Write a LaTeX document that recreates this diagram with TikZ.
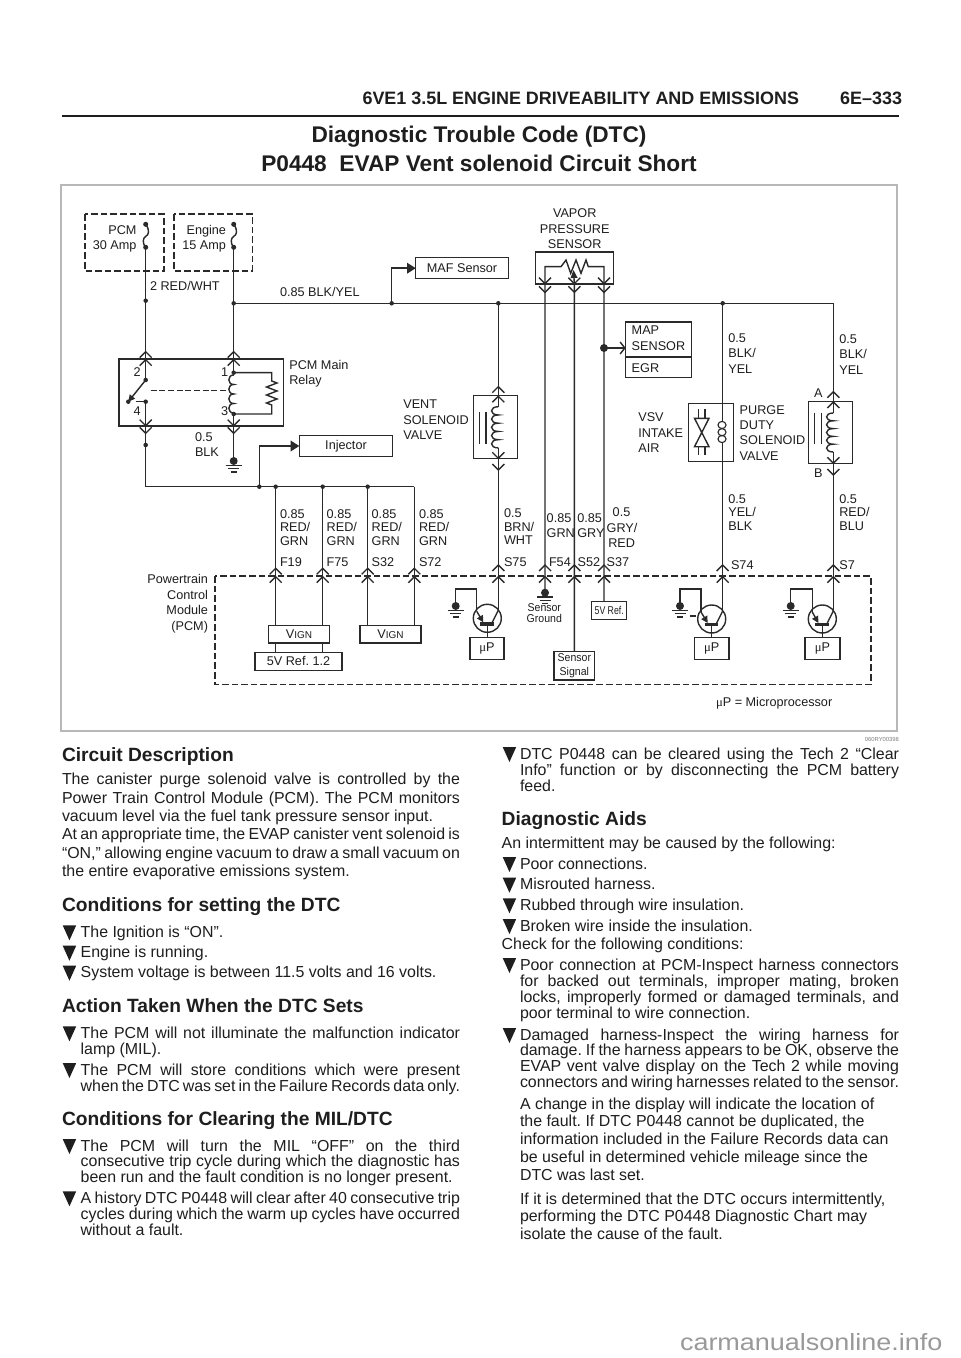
\documentclass[tikz,border=0pt]{standalone}
\usepackage{fontspec}
\usepackage{graphicx}
\usetikzlibrary{arrows.meta,calc}
\setmainfont{Liberation Sans}
\newfontfamily\mufont{Liberation Serif}
\definecolor{ink}{HTML}{1E1E1E}
\definecolor{wirec}{HTML}{2A2A2A}
\definecolor{framec}{HTML}{B8B8B8}
\definecolor{markc}{HTML}{999999}
\newdimen\pxd \pxd=0.75pt
\newcounter{tc}
\hfuzz=50pt \hbadness=10000
\frenchspacing
\newcommand\bodyf{\fontsize{11.95}{14}\selectfont}
\newcommand\headf{\fontsize{14.4}{17}\selectfont\bfseries}
\newcommand\dgf{\fontsize{9.5}{11}\selectfont}
\newcommand\smf{\fontsize{8.5}{10}\selectfont}
\tikzset{
  lab/.style={inner sep=0pt,outer sep=0pt,text=ink},
  wire/.style={draw=wirec,line width=1.05pt,line join=miter},
  thinw/.style={draw=wirec,line width=0.85pt},
  boxst/.style={draw=wirec,line width=1.05pt,fill=white,inner sep=0pt,outer sep=0pt,text=ink,align=center,font=\dgf},
  openbox/.style={draw=wirec,line width=1.05pt,inner sep=0pt,outer sep=0pt},
  dashbox/.style={draw=wirec,line width=0.9pt,dash pattern=on 5pt off 2.2pt},
  solid tip/.style={-{Triangle[length=6.5pt,width=8pt]}},
  barb tip/.style={-{Straight Barb[length=3.5pt,width=9pt]}},
}
% generic text: font, x, y, anchor, text
\newcommand\tx[5]{\stepcounter{tc}\node[lab,anchor=#4,font=#1] (t\number\value{tc}) at (#2,#3) {#5};}
\newcommand\bl[3]{\tx{\bodyf}{#1}{#2}{base west}{#3}}
\newcommand\jl[4]{\tx{\bodyf}{#1}{#2}{base west}{\hbox to #3\pxd{\spaceskip=0.278em plus 1fil minus 0.16em\relax #4}}}
\newcommand\hd[3]{\tx{\headf}{#1}{#2}{base west}{#3}}
\newcommand\lb[3]{\tx{\dgf}{#1}{#2}{base west}{#3}}
\newcommand\lbr[3]{\tx{\dgf}{#1}{#2}{base east}{#3}}
\newcommand\lbc[3]{\tx{\dgf}{#1}{#2}{base}{#3}}
\newcommand\bul[2]{\fill[ink] (#1,#2) ++(0,-12) -- ++(13.5,0) -- ++(-6.75,15) -- cycle;}
% box: name, x1,y1,x2,y2, text
\newcommand\bx[6]{\pgfmathsetmacro\bw{(#4-#2)*0.75}\pgfmathsetmacro\bh{(#5-#3)*0.75}\node[boxst,minimum width=\bw pt,minimum height=\bh pt] (#1) at ({(#2+#4)/2},{(#3+#5)/2}) {#6};}
\newcommand\obx[5]{\pgfmathsetmacro\bw{(#4-#2)*0.75}\pgfmathsetmacro\bh{(#5-#3)*0.75}\node[openbox,minimum width=\bw pt,minimum height=\bh pt] (#1) at ({(#2+#4)/2},{(#3+#5)/2}) {};}
% chevrons
\newcommand\cu[2]{\draw[wire] (#1-6,#2+6) -- (#1,#2) -- (#1+6,#2+6);}
\newcommand\cd[2]{\draw[wire] (#1-6,#2-6) -- (#1,#2) -- (#1+6,#2-6);}
\newcommand\dt[2]{\fill[wirec] (#1,#2) circle (1.7pt);}
\newcommand\gnd[2]{\fill[wirec] (#1,#2) circle (3pt);
  \draw[wire] (#1-8,#2+4.2) -- (#1+8,#2+4.2) (#1-5.5,#2+7.6) -- (#1+5.5,#2+7.6) (#1-3,#2+11) -- (#1+3,#2+11);}
\newcommand\fuse[2]{\draw[wire] (#1,#2) .. controls (#1+4.5,#2+6) and (#1+3,#2+11) .. (#1,#2+12) .. controls (#1-3,#2+14) and (#1-3.5,#2+19) .. (#1,#2+23);
  \fill[wirec] (#1,#2) circle (1.9pt) (#1,#2+23) circle (1.9pt);}
\newcommand\coil[5]{\draw[wire] (#1,#2) \foreach \i in {1,...,#4}{ .. controls +(-#5,0) and +(-#5,0) .. ++(0,#3) };}
% transistor: wire x, centre y, emitter-corner x, ground x
\newcommand\trans[4]{
  \draw[wire] (#1-11,#2) circle (10.5pt);
  \draw[wirec,line width=2.6pt] (#1-18,#2+5.6) -- (#1-4.5,#2+5.6);
  \draw[wire] (#1-11,#2+5.6) -- (#1-11,#2+19);
  \draw[wire] (#1,#2-8) -- (#1-6,#2+4);
  \draw[wire,-{Triangle[length=5pt,width=5pt]}] (#3,#2-7) -- (#1-15,#2+4);
  \draw[wire] (#3,#2-7) -- (#3,588.8) -- (#4,588.8) -- (#4,606);
  \gnd{#4}{606}}
\begin{document}
\begin{tikzpicture}[x=0.75pt,y=-0.75pt]
\useasboundingbox (0,0) rectangle (960,1358);
\fill[white] (0,0) rectangle (960,1358);

% ---------- page head
\tx{\fontsize{13.45}{16}\selectfont\bfseries}{799}{105}{base east}{6VE1 3.5L ENGINE DRIVEABILITY AND EMISSIONS}
\tx{\fontsize{13.45}{16}\selectfont\bfseries}{902}{105}{base east}{6E–333}
\coordinate (ruleA) at (62,116); \coordinate (ruleB) at (899,116);
\draw[ink,line width=1.7pt] (ruleA) -- (ruleB);
\tx{\fontsize{17}{20}\selectfont\bfseries}{479}{143}{base}{Diagnostic Trouble Code (DTC)}
\tx{\fontsize{17}{20}\selectfont\bfseries}{479}{172}{base}{P0448\ \ EVAP Vent solenoid Circuit Short}
\node[draw=framec,line width=1pt,minimum width=627pt,minimum height=409.5pt,inner sep=0pt] (frame) at (479,458) {};
\tx{\fontsize{4.4}{5}\selectfont}{899}{741}{base east}{\color{gray}060RY00398}

% ---------- diagram: boxes
\draw[dashbox] (85,214) rectangle (164,271);
\draw[dashbox] (174,214) rectangle (252.3,271);
\draw[dashbox] (215,576) rectangle (871,684.3);
\obx{relay}{119}{359}{283.3}{426}
\obx{vent}{473.3}{395.7}{517.3}{458.3}
\obx{vapor}{535.7}{252}{613.7}{284}
\obx{purge}{688.3}{403.3}{733.3}{461.7}
\obx{sol}{808.7}{401.3}{852.7}{463.3}
\bx{maf}{415.7}{257.7}{508.3}{278.7}{MAF Sensor}
\bx{inj}{299.3}{435.3}{392.7}{456.7}{Injector}
\bx{vign1}{268.7}{625.3}{329.3}{643}{V{\fontsize{7.5}{9}\selectfont IGN}}
\bx{ref12}{255}{652.3}{342}{670.3}{5V Ref. 1.2}
\bx{vign2}{360}{625.3}{421}{643}{V{\fontsize{7.5}{9}\selectfont IGN}}
\bx{map}{625.7}{322}{691.3}{357}{}
\bx{egr}{625.7}{357}{691.3}{377.7}{}
\bx{up1}{470}{637.3}{504}{659.3}{{\mufont μ}P}
\bx{up2}{694.3}{637.3}{729}{659.3}{{\mufont μ}P}
\bx{up3}{805}{637.3}{840}{659.3}{{\mufont μ}P}
\bx{ssig}{554}{651.3}{594.7}{680}{\smf\scalebox{.93}[1]{Sensor}\\[-1pt]\smf\scalebox{.93}[1]{Signal}}
\bx{vref}{591.7}{601.3}{626.7}{619.7}{\smf\scalebox{.77}[1]{5V Ref.}}

% ---------- junctions
\coordinate (f1) at (145.7,247.3); \coordinate (f2) at (233.7,247.3);
\coordinate (r2) at (145.7,380); \coordinate (r1) at (233.7,372.7);
\coordinate (r4) at (145.7,401.7); \coordinate (r3) at (233.7,414);
\coordinate (j0) at (233.7,303.3); \coordinate (jR) at (833.3,303.3);
\coordinate (j1) at (391.7,303.3); \coordinate (j2) at (498.3,303.3); \coordinate (j3) at (722.7,303.3);
\coordinate (sw) at (128.3,401.7);
\coordinate (bus) at (145.7,486.7); \coordinate (busR) at (414.3,486.7);
\coordinate (b1) at (259.3,486.7); \coordinate (b2) at (275.7,486.7); \coordinate (b3) at (322.7,486.7); \coordinate (b4) at (367.7,486.7);
\coordinate (gr) at (233.7,461);
\coordinate (jm) at (604,348);

% ---------- wires
\draw[wire] (f1) -- (r2);
\draw[wire] (f2) -- (r1);
\draw[wire] (j0) -- (jR) -- (833.3,413);
\draw[wire,solid tip] (j1) |- (maf.west);
\draw[wire] (j2) -- (498.3,406.7);
\draw[wire] (j3) -- (722.7,421);
\draw[wire] (722.7,443) -- (722.7,610);
\draw[wire] (833.3,452) -- (833.3,610);
\draw[wire] (498.3,448) -- (498.3,610);
\draw[wire] (r4) -- (bus) -- (busR);
\draw[wire] (136,401.7) -- (r4);
\draw[wire] (r3) -- (gr);
\draw[wire,solid tip] (b1) |- (inj.west);
\draw[wire] (b2) -- (b2 |- vign1.north) (vign1.south -| b2) -- (b2 |- ref12.north);
\draw[wire] (b3) -- (b3 |- vign1.north) (vign1.south -| b3) -- (b3 |- ref12.north);
\draw[wire] (b4) -- (b4 |- vign2.north);
\draw[wire] (busR) -- (busR |- vign2.north);
% vapor sensor
\draw[wire] (545,592) -- (545,266.7) -- (561,266.7) -- (566,260) -- (570.7,273.3) -- (576,260) -- (581,273.3) -- (586,260) -- (588.3,266.7) -- (604,266.7) -- (vref.north -| 604,0);
\draw[wire] (ssig.north) -- (574.3,283);
\draw[wire,-{Triangle[length=6pt,width=5pt]}] (574.3,283) -- (573.5,270);
\draw[wire,barb tip] (jm) -- (map.west |- jm);

% fuses, dots
\fuse{145.7}{224.3}
\fuse{233.7}{224.3}
\dt{145.7}{300.7}\dt{233.7}{303.3}\dt{391.7}{303.3}\dt{498.3}{303.3}\dt{722.7}{303.3}
\dt{145.7}{445}\dt{259.3}{486.7}\dt{275.7}{486.7}\dt{322.7}{486.7}\dt{367.7}{486.7}
\fill[wirec] (jm) circle (3pt);

% relay internals
\dt{145.7}{380}\dt{145.7}{401.7}\dt{128.3}{401.7}\dt{233.7}{372.7}\dt{233.7}{414}
\draw[wire,-{Triangle[length=5pt,width=5pt]}] (r2) -- (sw);
\draw[wire,dash pattern=on 4.5pt off 2pt] (150.7,390.3) -- (226.7,390.3);
\coil{233.7}{375}{9.5}{4}{6.5}
\draw[wire] (r1) -- (271.7,372.7) -- (271.7,381) -- (277,383) -- (266.5,387) -- (277,391) -- (266.5,395) -- (277,399) -- (266.5,403) -- (271.7,405) -- (271.7,414) -- (r3);
\gnd{233.7}{461}

% connectors
\cu{145.7}{351.7}\cu{145.7}{359.7}\cu{233.7}{351.7}\cu{233.7}{359.7}
\cd{145.7}{425.7}\cd{145.7}{433.3}\cd{233.7}{425.7}\cd{233.7}{433.3}
\cu{498.3}{386.7}\cu{498.3}{396.3}\cd{498.3}{458.3}\cd{498.3}{470}
\cd{545}{283.7}\cd{574.3}{283.7}\cd{604}{283.7}\cd{545}{292.3}\cd{574.3}{292.3}\cd{604}{292.3}
\cu{833.3}{391.7}\cu{833.3}{402}\cd{833.3}{463.3}\cd{833.3}{475}
\foreach \xx in {275.7,322.7,367.7,414.3}{\cu{\xx}{568.3}\cu{\xx}{576.7}}
\foreach \xx in {498.3,545,574.3,604,722.7,833.3}{\cu{\xx}{565}\cu{\xx}{576.7}}

% coils etc
\coil{498.3}{406.7}{8.25}{5}{9}
\coil{833.3}{413}{7.8}{5}{9}
\draw[wire] (479.5,412) -- (479.5,444) (486,412) -- (486,444);
\draw[wire] (814.3,412.7) -- (814.3,444.3) (821.7,412.7) -- (821.7,444.3);
\foreach \yy in {425,432.2,439}{\draw[thinw] (722,\yy) ellipse (3pt and 2.7pt);}
\draw[wire] (694.5,418.3) -- (709,418.3) -- (694.5,446.7) -- (709,446.7) -- cycle;
\draw[wire] (698.3,409) -- (698.3,418.3) (705,409) -- (705,418.3) (698.3,446.7) -- (698.3,455) (705,446.7) -- (705,455);

% transistors
\trans{498.3}{618.3}{476.7}{455.7}
\trans{722.7}{619}{701}{680}
\trans{833.3}{619}{812.3}{790.7}
\draw[wire] (690,616) -- (696,616);
\gnd{545}{592.7}

% ---------- diagram labels
\lbr{136.5}{234.3}{PCM}\lbr{136.5}{250}{30 Amp}
\lbr{226}{234.3}{Engine}\lbr{226}{250}{15 Amp}
\lb{150}{290.7}{2 RED/WHT}
\lb{280}{296.7}{0.85 BLK/YEL}
\lb{289.3}{369}{PCM Main}\lb{289.3}{384.3}{Relay}
\lb{133.5}{376.5}{2}\lb{133.5}{415}{4}\lb{221}{376.5}{1}\lb{221}{415}{3}
\lb{195}{441.7}{0.5}\lb{195}{456.7}{BLK}
\lb{403.3}{408.3}{VENT}\lb{403.3}{424}{SOLENOID}\lb{403.3}{439}{VALVE}
\lbc{574.7}{217.7}{VAPOR}\lbc{574.7}{233.3}{PRESSURE}\lbc{574.7}{248.3}{SENSOR}
\lb{631.7}{335}{MAP}\lb{631.7}{350.7}{SENSOR}\lb{631.7}{372.7}{EGR}
\lb{728.3}{342.7}{0.5}\lb{728.3}{358}{BLK/}\lb{728.3}{373.7}{YEL}
\lb{839.3}{343.7}{0.5}\lb{839.3}{358.7}{BLK/}\lb{839.3}{374.3}{YEL}
\lbc{818.3}{397.3}{A}\lbc{818.3}{477.7}{B}
\lb{638.3}{421.7}{VSV}\lb{638.3}{437}{INTAKE}\lb{638.3}{452.3}{AIR}
\lb{739.7}{414}{PURGE}\lb{739.7}{429.3}{DUTY}\lb{739.7}{444.7}{SOLENOID}\lb{739.7}{460}{VALVE}
\foreach \xx/\nm in {280/F19,326.7/F75,371.7/S32,419/S72}{
  \lb{\xx}{518.7}{0.85}\lb{\xx}{531.7}{RED/}\lb{\xx}{545}{GRN}\lb{\xx}{566}{\nm}}
\lb{504}{517.7}{0.5}\lb{504}{531.3}{BRN/}\lb{504}{544}{WHT}\lb{504}{566}{S75}
\lb{546.7}{522.7}{0.85}\lb{546.7}{537.7}{GRN}
\lb{577.3}{522.7}{0.85}\lb{577.3}{537.7}{GRY}
\lb{612.7}{516.7}{0.5}\lb{606.7}{532}{GRY/}\lb{608.3}{547.3}{RED}
\lb{549}{566.7}{F54}\lb{577.7}{566.7}{S52}\lb{606.7}{566.7}{S37}
\lb{731}{569}{S74}\lb{839.3}{569}{S7}
\lb{728.3}{503.3}{0.5}\lb{728.3}{516}{YEL/}\lb{728.3}{530}{BLK}
\lb{839.3}{503.3}{0.5}\lb{839.3}{516}{RED/}\lb{839.3}{530}{BLU}
\lbr{208}{583.3}{Powertrain}\lbr{208}{599.3}{Control}\lbr{208}{614.3}{Module}\lbr{208}{630}{(PCM)}
\tx{\smf}{544.3}{611.3}{base}{\scalebox{.93}[1]{Sensor}}
\tx{\smf}{544.3}{622}{base}{\scalebox{.93}[1]{Ground}}
\lb{716}{706}{{\mufont μ}P = Microprocessor}

% ---------- left column
\hd{62}{761}{Circuit Description}
\jl{62}{784.3}{398}{The canister purge solenoid valve is controlled by the}
\jl{62}{803}{398}{Power Train Control Module (PCM). The PCM monitors}
\bl{62}{821}{vacuum level via the fuel tank pressure sensor input.}
\jl{62}{839.7}{398}{At an appropriate time, the EVAP canister vent solenoid is}
\jl{62}{858}{398}{“ON,” allowing engine vacuum to draw a small vacuum on}
\bl{62}{876.7}{the entire evaporative emissions system.}
\hd{62}{911}{Conditions for setting the DTC}
\bul{62.7}{937.3}\bl{80.7}{937.3}{The Ignition is “ON”.}
\bul{62.7}{957.7}\bl{80.7}{957.7}{Engine is running.}
\bul{62.7}{977.7}\bl{80.7}{977.7}{System voltage is between 11.5 volts and 16 volts.}
\hd{62}{1012.7}{Action Taken When the DTC Sets}
\bul{62.7}{1038.3}\jl{80.7}{1038.3}{379.3}{The PCM will not illuminate the malfunction indicator}
\bl{80.7}{1054}{lamp (MIL).}
\bul{62.7}{1075}\jl{80.7}{1075}{379.3}{The PCM will store conditions which were present}
\jl{80.7}{1091}{379.3}{when the DTC was set in the Failure Records data only.}
\hd{62}{1125}{Conditions for Clearing the MIL/DTC}
\bul{62.7}{1151}\jl{80.7}{1151}{379.3}{The PCM will turn the MIL “OFF” on the third}
\jl{80.7}{1166.7}{379.3}{consecutive trip cycle during which the diagnostic has}
\bl{80.7}{1182.7}{been run and the fault condition is no longer present.}
\bul{62.7}{1203.3}\jl{80.7}{1203.3}{379.3}{A history DTC P0448 will clear after 40 consecutive trip}
\jl{80.7}{1219.3}{379.3}{cycles during which the warm up cycles have occurred}
\bl{80.7}{1235.7}{without a fault.}

% ---------- right column
\bul{502.7}{759}\jl{520}{759}{379}{DTC P0448 can be cleared using the Tech 2 “Clear}
\jl{520}{775}{379}{Info” function or by disconnecting the PCM battery}
\bl{520}{791}{feed.}
\hd{501.7}{825}{Diagnostic Aids}
\bl{501.7}{848}{An intermittent may be caused by the following:}
\bul{502.7}{869}\bl{520}{869}{Poor connections.}
\bul{502.7}{889.7}\bl{520}{889.7}{Misrouted harness.}
\bul{502.7}{910.3}\bl{520}{910.3}{Rubbed through wire insulation.}
\bul{502.7}{931}\bl{520}{931}{Broken wire inside the insulation.}
\bl{501.7}{949.3}{Check for the following conditions:}
\bul{502.7}{970}\jl{520}{970}{379}{Poor connection at PCM-Inspect harness connectors}
\jl{520}{986}{379}{for backed out terminals, improper mating, broken}
\jl{520}{1002.7}{379}{locks, improperly formed or damaged terminals, and}
\bl{520}{1018.3}{poor terminal to wire connection.}
\bul{502.7}{1040}\jl{520}{1040}{379}{Damaged harness-Inspect the wiring harness for}
\jl{520}{1055.7}{379}{damage. If the harness appears to be OK, observe the}
\jl{520}{1071.7}{379}{EVAP vent valve display on the Tech 2 while moving}
\jl{520}{1087.7}{379}{connectors and wiring harnesses related to the sensor.}
\bl{520}{1109.3}{A change in the display will indicate the location of}
\bl{520}{1126.7}{the fault. If DTC P0448 cannot be duplicated, the}
\bl{520}{1144.3}{information included in the Failure Records data can}
\bl{520}{1162.3}{be useful in determined vehicle mileage since the}
\bl{520}{1180}{DTC was last set.}
\bl{520}{1204}{If it is determined that the DTC occurs intermittently,}
\bl{520}{1221.7}{performing the DTC P0448 Diagnostic Chart may}
\bl{520}{1239}{isolate the cause of the fault.}

% ---------- footer mark
\tx{\fontsize{17.6}{20}\selectfont}{680}{1350}{base west}{\color{markc}\scalebox{1.15}[1]{carmanualsonline.info}}
\end{tikzpicture}
\end{document}
